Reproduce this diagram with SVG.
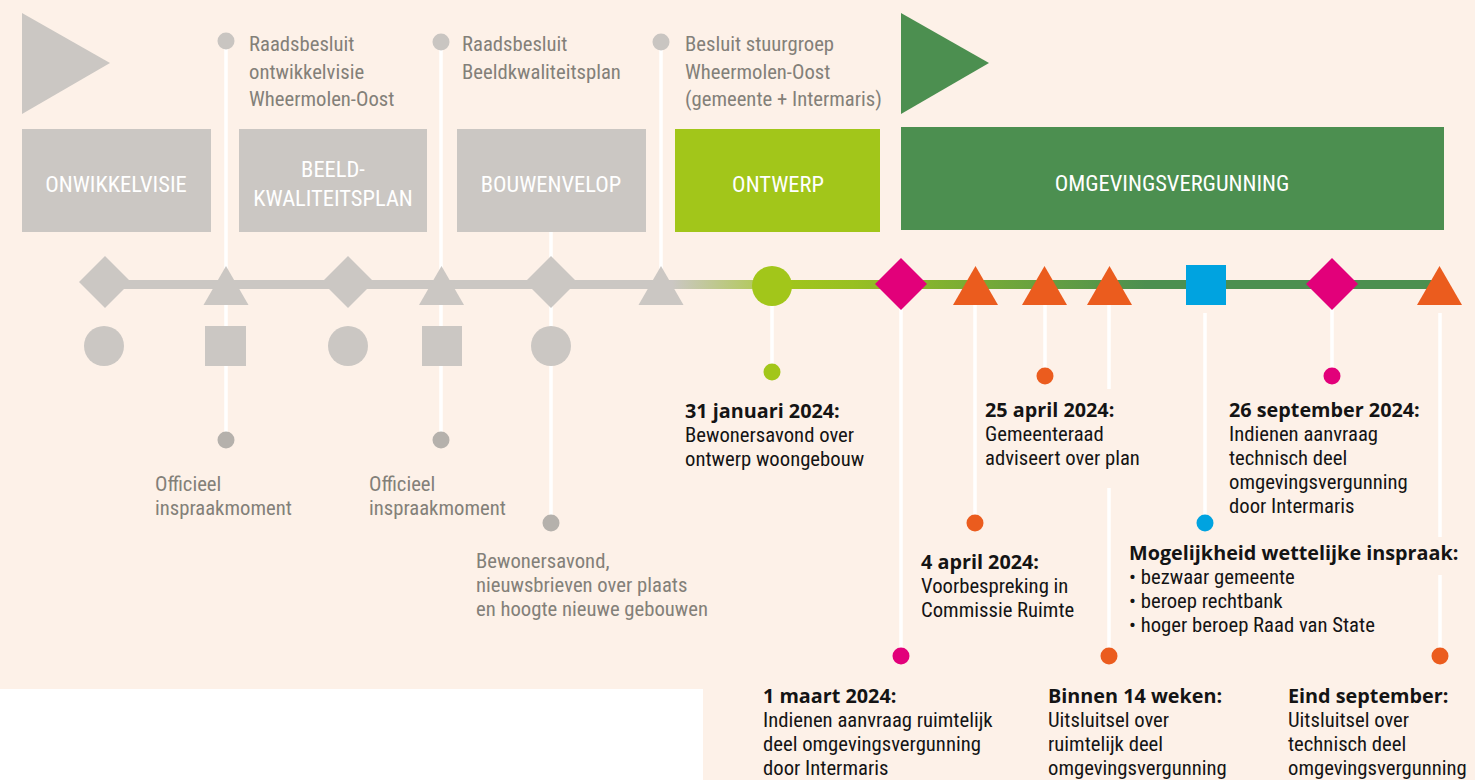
<svg xmlns="http://www.w3.org/2000/svg" width="1475" height="780" viewBox="0 0 1475 780">
<defs>
<style>
.bg{fill:#fdf1e8}
.gbox{fill:#cbc7c3}
.lbl{font-family:"Liberation Sans Narrow","Roboto Condensed","Liberation Sans",sans-serif;font-size:22.5px;fill:#ffffff;text-anchor:middle}
.gt{font-family:"Liberation Sans Narrow","Roboto Condensed","Liberation Sans",sans-serif;font-size:20.7px;fill:#838079}
.hd{font-family:"Open Sans","Liberation Sans",sans-serif;font-size:19.8px;font-weight:bold;fill:#141414}
.bd{font-family:"Liberation Sans Narrow","Roboto Condensed","Liberation Sans",sans-serif;font-size:20.7px;fill:#141414}
.vl{stroke:#ffffff;stroke-width:3.5;fill:none}
.gshape{fill:#cbc7c3}
.gdot{fill:#c9c5c1}
.gdot2{fill:#b5b1ac}
.mag{fill:#e2007a}
.ora{fill:#eb5c1e}
.blu{fill:#00a3e0}
.lim{fill:#a2c61a}
.grn{fill:#4c8f50}
</style>
<linearGradient id="tl" gradientUnits="userSpaceOnUse" x1="105" y1="0" x2="1440" y2="0">
<stop offset="0" stop-color="#cbc7c3"/>
<stop offset="0.425" stop-color="#cbc7c3"/>
<stop offset="0.49" stop-color="#b2c95a"/>
<stop offset="0.5" stop-color="#a2c61a"/>
<stop offset="0.56" stop-color="#98c022"/>
<stop offset="0.78" stop-color="#4c8f50"/>
<stop offset="1" stop-color="#4c8f50"/>
</linearGradient>
</defs>
<rect class="bg" x="0" y="0" width="1475" height="780"/>
<rect x="0" y="689" width="703" height="91" fill="#ffffff"/>

<g id="connectors">
<rect x="105" y="280" width="1335" height="9" fill="url(#tl)"/>
<line class="vl" x1="226" y1="41" x2="226" y2="440"/>
<line class="vl" x1="441" y1="42" x2="441" y2="440"/>
<line class="vl" x1="661" y1="42" x2="661" y2="270"/>
<line class="vl" x1="551" y1="232" x2="551" y2="523"/>
<line class="vl" x1="772" y1="300" x2="772" y2="372"/>
<line class="vl" x1="901" y1="300" x2="901" y2="656"/>
<line class="vl" x1="975" y1="300" x2="975" y2="523"/>
<line class="vl" x1="1045" y1="300" x2="1045" y2="376"/>
<line class="vl" x1="1109" y1="300" x2="1109" y2="389"/>
<line class="vl" x1="1109" y1="488" x2="1109" y2="656"/>
<line class="vl" x1="1205" y1="313" x2="1205" y2="523"/>
<line class="vl" x1="1332" y1="300" x2="1332" y2="376"/>
<line class="vl" x1="1440" y1="313" x2="1440" y2="537"/>
<line class="vl" x1="1440" y1="575" x2="1440" y2="656"/>
</g>

<g id="phase-start">
<polygon class="gshape" points="22,13 110,63 22,114"/>
</g>
<g id="phase-green-start">
<polygon class="grn" points="901,13 989,63 901,114"/>
</g>

<g id="box-onwikkelvisie">
<rect class="gbox" x="22" y="129" width="189" height="103"/>
<text class="lbl" x="116" y="192">ONWIKKELVISIE</text>
</g>
<g id="box-beeld">
<rect class="gbox" x="239" y="129" width="188" height="103"/>
<text class="lbl" x="333" y="177">BEELD-</text>
<text class="lbl" x="333" y="206">KWALITEITSPLAN</text>
</g>
<g id="box-bouwenvelop">
<rect class="gbox" x="457" y="129" width="189" height="103"/>
<text class="lbl" x="551" y="192">BOUWENVELOP</text>
</g>
<g id="box-ontwerp">
<rect class="lim" x="675" y="129" width="205" height="103"/>
<text class="lbl" x="778" y="192">ONTWERP</text>
</g>
<g id="box-omgevingsvergunning">
<rect class="grn" x="901" y="127" width="543" height="103"/>
<text class="lbl" x="1172" y="191">OMGEVINGSVERGUNNING</text>
</g>

<g id="m-raad1">
<circle class="gdot" cx="226" cy="41" r="8.5"/>
<text class="gt" x="249" y="51">Raadsbesluit</text>
<text class="gt" x="249" y="79">ontwikkelvisie</text>
<text class="gt" x="249" y="106">Wheermolen-Oost</text>
</g>
<g id="m-raad2">
<circle class="gdot" cx="441" cy="42" r="8.5"/>
<text class="gt" x="462" y="51">Raadsbesluit</text>
<text class="gt" x="462" y="79">Beeldkwaliteitsplan</text>
</g>
<g id="m-stuurgroep">
<circle class="gdot" cx="661" cy="42" r="8.5"/>
<text class="gt" x="685" y="51">Besluit stuurgroep</text>
<text class="gt" x="685" y="79">Wheermolen-Oost</text>
<text class="gt" x="685" y="106">(gemeente + Intermaris)</text>
</g>

<g id="tl-gray">
<polygon class="gshape" points="105,256 131,282 105,308 79,282"/>
<polygon class="gshape" points="226,266 248.5,305 203.5,305"/>
<circle class="gshape" cx="104" cy="346" r="20"/>
<rect class="gshape" x="205" y="326" width="41" height="40"/>
<polygon class="gshape" points="348,256 374,282 348,308 322,282"/>
<polygon class="gshape" points="441.5,266 464,305 419,305"/>
<circle class="gshape" cx="348" cy="346" r="20"/>
<rect class="gshape" x="422" y="326" width="40" height="40"/>
<polygon class="gshape" points="551,256 577,282 551,308 525,282"/>
<circle class="gshape" cx="551" cy="346" r="20"/>
<polygon class="gshape" points="661,266 683.5,305 638.5,305"/>
</g>

<g id="m-inspraak1">
<circle class="gdot2" cx="226" cy="440" r="8.5"/>
<text class="gt" x="155" y="491">Officieel</text>
<text class="gt" x="155" y="515">inspraakmoment</text>
</g>
<g id="m-inspraak2">
<circle class="gdot2" cx="441" cy="440" r="8.5"/>
<text class="gt" x="369" y="491">Officieel</text>
<text class="gt" x="369" y="515">inspraakmoment</text>
</g>
<g id="m-bewoners">
<circle class="gdot2" cx="551" cy="523" r="8.5"/>
<text class="gt" x="476" y="568">Bewonersavond,</text>
<text class="gt" x="476" y="592">nieuwsbrieven over plaats</text>
<text class="gt" x="476" y="616">en hoogte nieuwe gebouwen</text>
</g>

<g id="m-31jan">
<circle class="lim" cx="772" cy="286" r="20"/>
<circle class="lim" cx="772" cy="372" r="8.5"/>
<text class="hd" x="685" y="418">31 januari 2024:</text>
<text class="bd" x="685" y="442">Bewonersavond over</text>
<text class="bd" x="685" y="466">ontwerp woongebouw</text>
</g>
<g id="m-1maart">
<polygon class="mag" points="901,258 927,284 901,310 875,284"/>
<circle class="mag" cx="901" cy="656" r="8.5"/>
<text class="hd" x="763" y="703">1 maart 2024:</text>
<text class="bd" x="763" y="727">Indienen aanvraag ruimtelijk</text>
<text class="bd" x="763" y="751">deel omgevingsvergunning</text>
<text class="bd" x="763" y="775">door Intermaris</text>
</g>
<g id="m-4april">
<polygon class="ora" points="975.5,266 998,305 953,305"/>
<circle class="ora" cx="975" cy="523" r="8.5"/>
<text class="hd" x="921" y="569">4 april 2024:</text>
<text class="bd" x="921" y="593">Voorbespreking in</text>
<text class="bd" x="921" y="617">Commissie Ruimte</text>
</g>
<g id="m-25april">
<polygon class="ora" points="1044.5,266 1067,305 1022,305"/>
<circle class="ora" cx="1045" cy="376" r="8.5"/>
<text class="hd" x="985" y="417">25 april 2024:</text>
<text class="bd" x="985" y="441">Gemeenteraad</text>
<text class="bd" x="985" y="465">adviseert over plan</text>
</g>
<g id="m-14weken">
<polygon class="ora" points="1109.5,266 1132,305 1087,305"/>
<circle class="ora" cx="1109" cy="656" r="8.5"/>
<text class="hd" x="1048" y="703">Binnen 14 weken:</text>
<text class="bd" x="1048" y="727">Uitsluitsel over</text>
<text class="bd" x="1048" y="751">ruimtelijk deel</text>
<text class="bd" x="1048" y="775">omgevingsvergunning</text>
</g>
<g id="m-inspraak">
<rect class="blu" x="1186" y="265" width="40" height="40"/>
<circle class="blu" cx="1205" cy="523" r="8.5"/>
<text class="hd" x="1129" y="560">Mogelijkheid wettelijke inspraak:</text>
<text class="bd" x="1129" y="584">• bezwaar gemeente</text>
<text class="bd" x="1129" y="608">• beroep rechtbank</text>
<text class="bd" x="1129" y="632">• hoger beroep Raad van State</text>
</g>
<g id="m-26sep">
<polygon class="mag" points="1332,258 1358,284 1332,310 1306,284"/>
<circle class="mag" cx="1332" cy="376" r="8.5"/>
<text class="hd" x="1229" y="417">26 september 2024:</text>
<text class="bd" x="1229" y="441">Indienen aanvraag</text>
<text class="bd" x="1229" y="465">technisch deel</text>
<text class="bd" x="1229" y="489">omgevingsvergunning</text>
<text class="bd" x="1229" y="513">door Intermaris</text>
</g>
<g id="m-eindsep">
<polygon class="ora" points="1439.5,266 1462,305 1417,305"/>
<circle class="ora" cx="1440" cy="656" r="8.5"/>
<text class="hd" x="1288" y="703">Eind september:</text>
<text class="bd" x="1288" y="727">Uitsluitsel over</text>
<text class="bd" x="1288" y="751">technisch deel</text>
<text class="bd" x="1288" y="775">omgevingsvergunning</text>
</g>
</svg>
